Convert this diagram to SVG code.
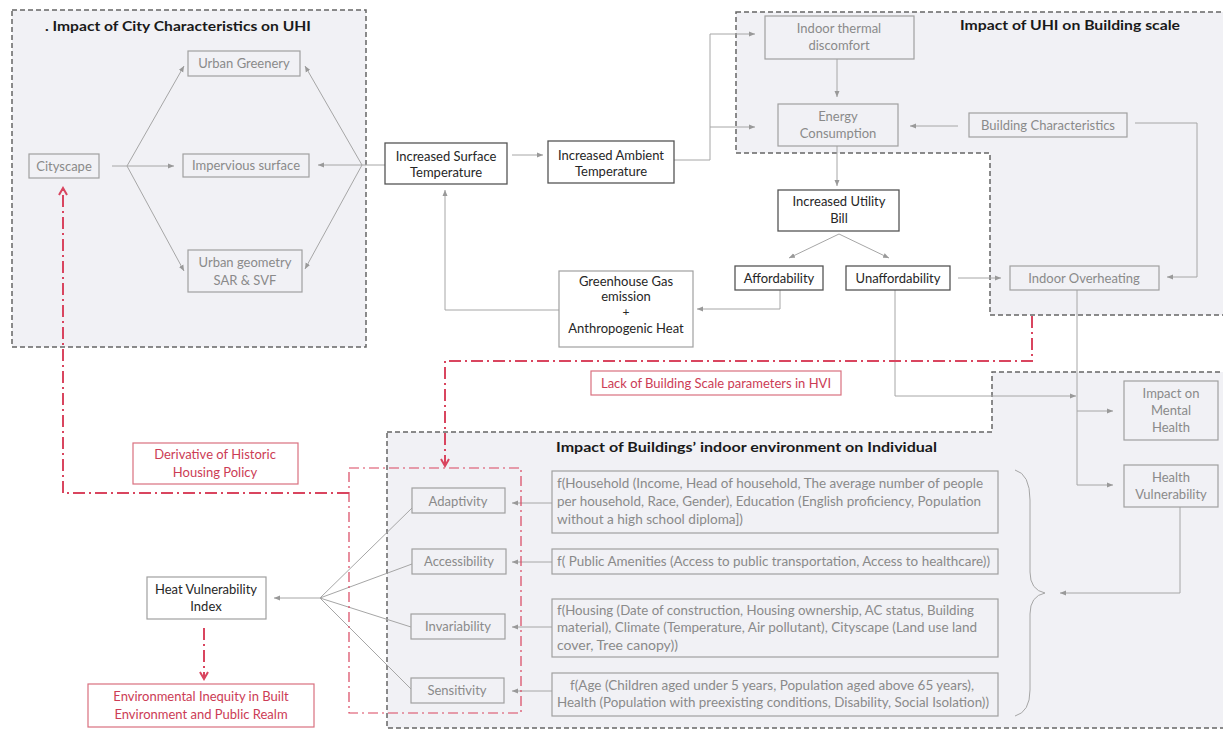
<svg xmlns="http://www.w3.org/2000/svg" width="1223" height="729" viewBox="0 0 1223 729">
<style>
text{font-family:Lato,"Open Sans","Liberation Sans",sans-serif;font-size:13px;text-anchor:middle}
.t{font-weight:bold;font-size:14px;fill:#1a1a1a;text-anchor:start}
.gt{fill:#8a8a8a}
.bt{fill:#262626}
.rt{fill:#cc3c55}
.ft{fill:#8a8a8a;font-size:12.5px;text-anchor:start}
.panel{fill:#f1f1f5;stroke:#666;stroke-width:1.5;stroke-dasharray:5,3}
.gb{fill:#f1f1f5;stroke:#a0a0a0;stroke-width:1.2}
.wb{fill:#fff;stroke:#a0a0a0;stroke-width:1.2}
.bb{fill:#fff;stroke:#555;stroke-width:1.3}
.rb{fill:#fff;stroke:#d9707f;stroke-width:1.2}
.c{fill:none;stroke:#a6a6a6;stroke-width:1}
.r{fill:none;stroke:#d9455f;stroke-width:2;stroke-dasharray:12,4,2,4}
.rthin{fill:none;stroke:#d9455f;stroke-width:1.2;stroke-dasharray:10,4,2,4}
</style>
<defs>
<marker id="a" markerUnits="userSpaceOnUse" markerWidth="7" markerHeight="6" refX="6" refY="3" orient="auto"><path d="M0,0.5 L6,3 L0,5.5 z" fill="#999"/></marker>
<marker id="ra" markerUnits="userSpaceOnUse" markerWidth="10" markerHeight="10" refX="8" refY="5" orient="auto"><path d="M1,1 L8,5 L1,9" fill="none" stroke="#d9455f" stroke-width="2"/></marker>
</defs>
<rect width="1223" height="729" fill="#fff"/>

<g id="panel-city">
<rect class="panel" x="12" y="10" width="354" height="337"/>
<text class="t" x="45" y="31" textLength="266" lengthAdjust="spacingAndGlyphs">. Impact of City Characteristics on UHI</text>
</g>
<g id="panel-building">
<path class="panel" d="M736,12 L1226,12 L1226,315 L990,315 L990,153 L736,153 Z"/>
<text class="t" x="960" y="30" textLength="220" lengthAdjust="spacingAndGlyphs">Impact of UHI on Building scale</text>
</g>
<g id="panel-individual">
<path class="panel" d="M387,432 L992,432 L992,372 L1226,372 L1226,728 L387,728 Z"/>
<text class="t" x="556" y="452" textLength="381" lengthAdjust="spacingAndGlyphs">Impact of Buildings’ indoor environment on Individual</text>
</g>

<g id="connectors">
<polyline class="c" points="112,166 127,166"/>
<line class="c" x1="127" y1="166" x2="184" y2="66" marker-end="url(#a)"/>
<line class="c" x1="127" y1="166" x2="174" y2="166" marker-end="url(#a)"/>
<line class="c" x1="127" y1="166" x2="184" y2="271" marker-end="url(#a)"/>
<line class="c" x1="385" y1="165" x2="362" y2="165"/>
<line class="c" x1="362" y1="165" x2="305" y2="66" marker-end="url(#a)"/>
<line class="c" x1="362" y1="165" x2="318" y2="165" marker-end="url(#a)"/>
<line class="c" x1="362" y1="165" x2="305" y2="269" marker-end="url(#a)"/>
<line class="c" x1="512" y1="155" x2="543" y2="155" marker-end="url(#a)"/>
<polyline class="c" points="674,160 710,160 710,34 755,34" marker-end="url(#a)"/>
<polyline class="c" points="710,127 755,127" marker-end="url(#a)"/>
<line class="c" x1="837" y1="59" x2="837" y2="97" marker-end="url(#a)"/>
<line class="c" x1="958" y1="126" x2="910" y2="126" marker-end="url(#a)"/>
<polyline class="c" points="1135,123 1197,123 1197,277 1167,277" marker-end="url(#a)"/>
<line class="c" x1="837" y1="146" x2="837" y2="186" marker-end="url(#a)"/>
<line class="c" x1="839" y1="234" x2="789" y2="258" marker-end="url(#a)"/>
<line class="c" x1="839" y1="234" x2="889" y2="258" marker-end="url(#a)"/>
<line class="c" x1="958" y1="278" x2="1001" y2="278" marker-end="url(#a)"/>
<polyline class="c" points="780,290 780,309 697,309" marker-end="url(#a)"/>
<polyline class="c" points="559,310 445,310 445,190" marker-end="url(#a)"/>
<polyline class="c" points="895,290 895,396 1076,396" marker-end="url(#a)"/>
<polyline class="c" points="1077,290 1077,485 1113,485" marker-end="url(#a)"/>
<line class="c" x1="1077" y1="411" x2="1113" y2="411" marker-end="url(#a)"/>
<polyline class="c" points="1180,507 1180,593 1060,593" marker-end="url(#a)"/>
<path class="c" d="M1015,470 Q1030,474 1030,500 L1030,572 Q1030,590 1045,593 Q1030,596 1030,614 L1030,690 Q1030,712 1015,716"/>
<line class="c" x1="552" y1="503" x2="512" y2="503" marker-end="url(#a)"/>
<line class="c" x1="552" y1="562" x2="512" y2="562" marker-end="url(#a)"/>
<line class="c" x1="552" y1="627" x2="512" y2="627" marker-end="url(#a)"/>
<line class="c" x1="552" y1="691" x2="512" y2="691" marker-end="url(#a)"/>
<line class="c" x1="320" y1="598" x2="412" y2="508"/>
<line class="c" x1="320" y1="598" x2="412" y2="564"/>
<line class="c" x1="320" y1="598" x2="411" y2="627"/>
<line class="c" x1="320" y1="598" x2="411" y2="689"/>
<line class="c" x1="320" y1="598" x2="274" y2="598" marker-end="url(#a)"/>
<polyline class="r" points="1032,316 1032,361 445,361 445,466" marker-end="url(#ra)"/>
<polyline class="r" points="349,493 63,493 63,188" marker-end="url(#ra)"/>
<line class="r" x1="204" y1="628" x2="204" y2="679" marker-end="url(#ra)"/>
<rect class="rthin" x="349" y="468" width="172" height="245"/>
</g>

<g id="n-cityscape"><rect class="gb" x="29" y="154" width="70" height="24"/><text class="gt" x="64" y="170.5">Cityscape</text></g>
<g id="n-greenery"><rect class="gb" x="188" y="51" width="112" height="25"/><text class="gt" x="244" y="68">Urban Greenery</text></g>
<g id="n-impervious"><rect class="gb" x="183" y="154" width="126" height="23"/><text class="gt" x="246" y="170">Impervious surface</text></g>
<g id="n-geometry"><rect class="gb" x="188" y="250" width="114" height="42"/><text class="gt" x="245" y="267">Urban geometry</text><text class="gt" x="245" y="285">SAR &amp; SVF</text></g>

<g id="n-surface"><rect class="bb" x="385" y="143" width="122" height="41"/><text class="bt" x="446" y="161">Increased Surface</text><text class="bt" x="446" y="177">Temperature</text></g>
<g id="n-ambient"><rect class="bb" x="548" y="141" width="126" height="42"/><text class="bt" x="611" y="160">Increased Ambient</text><text class="bt" x="611" y="176">Temperature</text></g>
<g id="n-greenhouse"><rect class="wb" x="559" y="271" width="134" height="76"/><text class="bt" x="626" y="285.5">Greenhouse Gas</text><text class="bt" x="626" y="301">emission</text><text class="bt" x="626" y="316" style="font-size:12px">+</text><text class="bt" x="626" y="333">Anthropogenic Heat</text></g>

<g id="n-discomfort"><rect class="gb" x="765" y="16" width="149" height="43"/><text class="gt" x="839" y="33">Indoor thermal</text><text class="gt" x="839" y="50">discomfort</text></g>
<g id="n-energy"><rect class="gb" x="778" y="104" width="120" height="42"/><text class="gt" x="838" y="121">Energy</text><text class="gt" x="838" y="138">Consumption</text></g>
<g id="n-buildchar"><rect class="gb" x="969" y="113" width="158" height="24"/><text class="gt" x="1048" y="130">Building Characteristics</text></g>
<g id="n-utility"><rect class="bb" x="778" y="190" width="121" height="41"/><text class="bt" x="839" y="206">Increased Utility</text><text class="bt" x="839" y="223">Bill</text></g>
<g id="n-afford"><rect class="bb" x="735" y="266" width="88" height="24"/><text class="bt" x="779" y="282.5">Affordability</text></g>
<g id="n-unafford"><rect class="bb" x="846" y="266" width="104" height="24"/><text class="bt" x="898" y="282.5">Unaffordability</text></g>
<g id="n-overheat"><rect class="gb" x="1010" y="266" width="149" height="24"/><text class="gt" x="1084" y="282.5">Indoor Overheating</text></g>

<g id="n-lack"><rect class="rb" x="591" y="371" width="250" height="24"/><text class="rt" x="716" y="387.5">Lack of Building Scale parameters in HVI</text></g>

<g id="n-mental"><rect class="gb" x="1124" y="381" width="94" height="59"/><text class="gt" x="1171" y="398">Impact on</text><text class="gt" x="1171" y="415">Mental</text><text class="gt" x="1171" y="432">Health</text></g>
<g id="n-healthvul"><rect class="gb" x="1124" y="465" width="94" height="42"/><text class="gt" x="1171" y="482">Health</text><text class="gt" x="1171" y="499">Vulnerability</text></g>

<g id="n-derivative"><rect class="rb" x="133" y="443" width="165" height="41"/><text class="rt" x="215" y="459">Derivative of Historic</text><text class="rt" x="215" y="477">Housing Policy</text></g>
<g id="n-hvi"><rect class="wb" x="147" y="577" width="119" height="42"/><text class="bt" x="206" y="594">Heat Vulnerability</text><text class="bt" x="206" y="611">Index</text></g>
<g id="n-inequity"><rect class="rb" x="88" y="684" width="226" height="43"/><text class="rt" x="201" y="701">Environmental Inequity in Built</text><text class="rt" x="201" y="719">Environment  and Public Realm</text></g>

<g id="n-adaptivity"><rect class="gb" x="412" y="488" width="93" height="25"/><text class="gt" x="458" y="505.5">Adaptivity</text></g>
<g id="n-accessibility"><rect class="gb" x="412" y="549" width="94" height="25"/><text class="gt" x="459" y="566">Accessibility</text></g>
<g id="n-invariability"><rect class="gb" x="411" y="614" width="94" height="25"/><text class="gt" x="458" y="631">Invariability</text></g>
<g id="n-sensitivity"><rect class="gb" x="411" y="678" width="93" height="25"/><text class="gt" x="457" y="695">Sensitivity</text></g>

<g id="n-f-household"><rect class="gb" x="552" y="471" width="446" height="62"/>
<text class="ft" x="557" y="488" textLength="426" lengthAdjust="spacingAndGlyphs">f(Household (Income, Head of household, The average number of people</text>
<text class="ft" x="557" y="506" textLength="424" lengthAdjust="spacingAndGlyphs">per household, Race, Gender), Education (English proficiency, Population</text>
<text class="ft" x="557" y="524" textLength="186" lengthAdjust="spacingAndGlyphs">without a high school diploma])</text></g>
<g id="n-f-public"><rect class="gb" x="552" y="549" width="446" height="25"/>
<text class="ft" x="557" y="566" textLength="433" lengthAdjust="spacingAndGlyphs">f( Public Amenities (Access to public transportation, Access to healthcare))</text></g>
<g id="n-f-housing"><rect class="gb" x="552" y="599" width="446" height="58"/>
<text class="ft" x="557" y="615" textLength="417" lengthAdjust="spacingAndGlyphs">f(Housing (Date of construction, Housing ownership, AC status, Building</text>
<text class="ft" x="557" y="632" textLength="420" lengthAdjust="spacingAndGlyphs">material), Climate (Temperature, Air pollutant), Cityscape (Land use land</text>
<text class="ft" x="557" y="650" textLength="121" lengthAdjust="spacingAndGlyphs">cover, Tree canopy))</text></g>
<g id="n-f-age"><rect class="gb" x="552" y="673" width="446" height="43"/>
<text class="ft" x="570" y="690" textLength="404" lengthAdjust="spacingAndGlyphs">f(Age (Children aged under 5 years, Population aged above 65 years),</text>
<text class="ft" x="557" y="707" textLength="432" lengthAdjust="spacingAndGlyphs">Health (Population with preexisting conditions, Disability, Social Isolation))</text></g>
</svg>
